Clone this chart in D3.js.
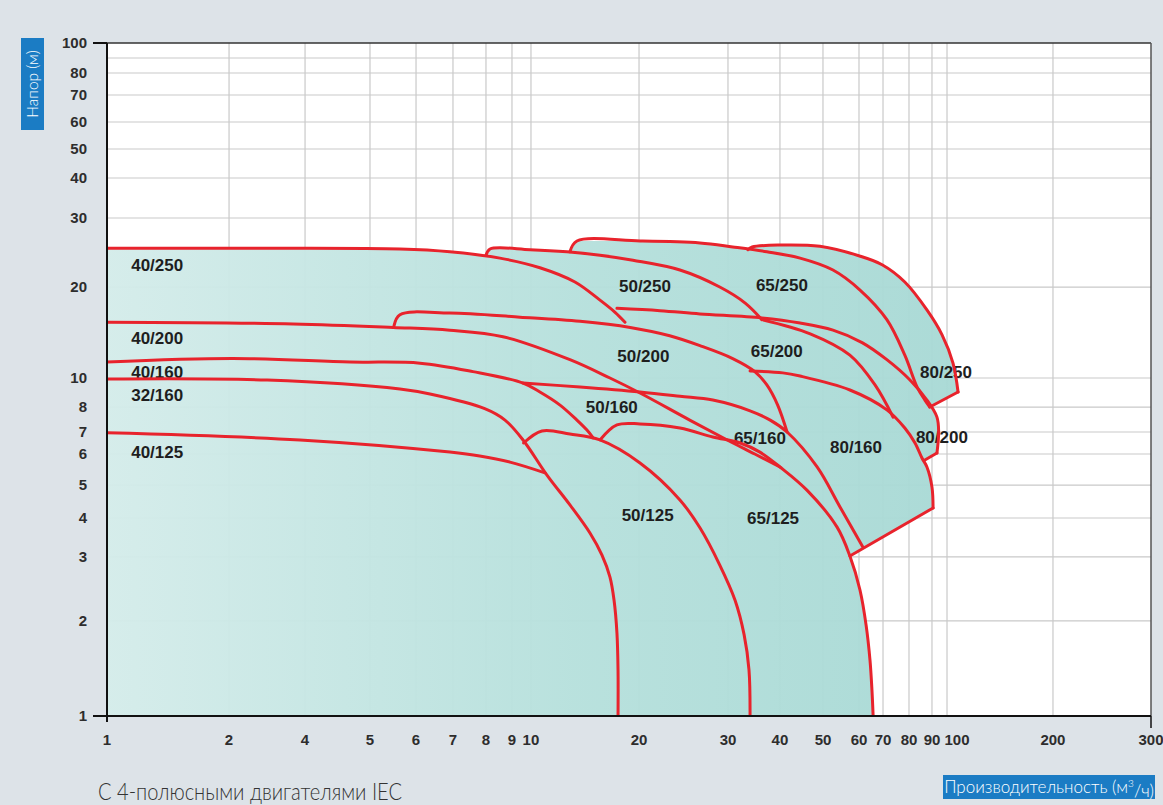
<!DOCTYPE html>
<html><head><meta charset="utf-8">
<script src="https://cdn.jsdelivr.net/npm/d3@7"></script>
<style>
body{margin:0;background:#dde3e8;}
svg{display:block}
</style>
</head><body>
<svg id="c" width="1163" height="805"></svg>
<script>
// ---------- tick labels ----------
const xTickValues = [1,2,4,5,6,7,8,9,10,20,30,40,50,60,70,80,90,100,200,300];
const yTickValues = [1,2,3,4,5,6,7,8,10,20,30,40,50,60,70,80,100];
const yGridValues = [2,3,4,5,6,7,8,10,20,30,40,50,60,70,80,90];
const xGridValues = [2,4,5,6,7,8,9,10,20,30,40,50,60,70,80,90,100,200];

// ---------- curves: [flow m3/h, head m] ----------
const c40_250 = [[1,25.1],[2.42,25.1],[5.63,25.0],[6.91,24.6],[8.52,23.7],[10.59,22.4],[13.26,20.6],[15.57,18.1],[17.15,16.5],[18.28,15.3]];
const c50_250 = [[8.0,24.1],[8.15,25.0],[9.95,24.9],[12.6,24.6],[15.57,24.1],[19.24,23.4],[24.1,22.1],[28.9,20],[33.0,17.7],[36.2,15.6]];
const c65_250 = [[12.84,24.6],[13.43,26.2],[20.09,26.2],[26.4,25.9],[30.8,25.3],[37.2,24.6],[44.4,23.7],[52.6,22.1],[60.4,19.55],[71.4,15.6],[78.3,11.9],[83.4,9.33],[86.8,8.44],[89.0,8.0]];
const c80_250 = [[33.5,24.9],[34.3,25.3],[40,25.6],[49.2,25.4],[60.2,24.0],[69.6,22.8],[78.3,20.6],[87.7,16.8],[96.6,13.9],[104,11.2],[107.5,8.98]];
const c40_200 = [[1,15.3],[3.59,15.1],[5.48,14.7],[6.91,14.4],[8.64,13.7],[12.84,11.5],[16.6,10],[20.09,8.91],[25.2,7.46],[29.9,6.62],[34.8,6.0],[40,5.56]];
const c50_200 = [[5.50,14.9],[5.63,16.2],[6.91,16.4],[9.41,15.9],[13.7,15.4],[18.9,14.7],[23.0,13.8],[26.4,12.8],[30.8,11.6],[34.8,10.5],[37.2,9.48],[39.5,8.12],[41.5,7.0]];
const c65_200 = [[17.36,17.0],[22.0,16.7],[26.4,16.3],[36.2,15.8],[44.4,15.2],[52.6,14.4],[61.2,13.1],[71.4,11.5],[80.4,9.85],[87.7,8.44],[93.2,7.58],[94.3,7.0],[93.2,6.04]];
const c65_200b = [[36.2,15.6],[46.8,14.0],[57.3,11.9],[66.5,9.48],[73.7,7.58]];
const c40_160 = [[1,11.3],[2.07,11.6],[4.67,11.3],[6.10,11.2],[7.59,10.5],[9.57,9.62],[10.59,8.98],[12.05,8.12],[13.43,7.46],[14.3,7.08],[14.9,6.72]];
const c32_160 = [[1,9.92],[2.83,9.84],[5.63,9.19],[6.36,8.84],[7.96,7.93],[8.72,7.46],[9.57,6.62],[11.08,5.30],[12.84,4.37],[14.6,3.58],[15.77,3.04],[16.6,2.64],[17.04,2.28],[17.36,1.83],[17.48,1.40],[17.48,1]];
const c50_160 = [[9.57,9.62],[13.7,9.33],[20.09,8.98],[24.1,8.69],[28.0,8.44],[33.9,7.84],[37.9,7.46],[41.5,7.0],[48.5,5.56],[54.5,4.31],[61.5,3.23]];
const c80_160 = [[33.9,10.55],[40.6,10.4],[44.4,10.15],[57.3,9.12],[71.4,7.88],[78.3,7.15],[82.5,6.48],[85.5,5.86],[87.7,5.56],[90,4.93],[90.7,4.28]];
const c40_125 = [[1,6.96],[3.82,6.62],[6.91,6.08],[7.80,5.93],[8.92,5.72],[10.94,5.37]];
const c50_125 = [[9.6,6.48],[10.73,7.04],[12.84,6.90],[15.57,6.62],[20.09,5.69],[24.1,4.52],[26.4,3.72],[28.9,2.85],[31.2,2.28],[32.8,1.81],[33.7,1.40],[33.9,1]];
const c65_125 = [[15.57,6.62],[17.36,7.27],[20.09,7.31],[24.1,7.15],[28.0,6.76],[32.1,6.48],[35.8,6.08],[40,5.56],[46.0,4.83],[53.7,3.74],[57.3,3.02],[60.4,2.43],[62.8,1.94],[64.4,1.50],[65.2,1.21],[65.7,1]];
// straight end lines
const edges = [
  [[107.5,8.98],[89.0,8.0]],
  [[93.2,6.04],[86.8,5.79]],
  [[90.7,4.28],[57.3,3.02]]
];
// outer envelope of the whole range
const envelope = [[1,1],[1,25.1],[2.42,25.1],[5.63,25.0],[6.91,24.6],[8.0,24.1],[8.15,25.0],[9.95,24.9],[12.6,24.6],[12.84,24.6],
  [13.43,26.2],[20.09,26.2],[26.4,25.9],[30.8,25.3],[33.5,24.9],[34.3,25.3],[40,25.6],[49.2,25.4],[60.2,24.0],[69.6,22.8],
  [78.3,20.6],[87.7,16.8],[96.6,13.9],[104,11.2],[107.5,8.98],[89.0,8.0],[93.2,7.58],[94.3,7.0],[93.2,6.04],[86.8,5.79],
  [87.7,5.56],[90,4.93],[90.7,4.28],[57.3,3.02],[60.4,2.43],[62.8,1.94],[64.4,1.50],[65.2,1.21],[65.7,1]];

const modelNames = ["40/250","40/200","40/160","32/160","40/125","50/250","50/200","50/160","50/125","65/250","65/200","65/160","65/125","80/250","80/200","80/160"];
const labelQ = [1.33,1.33,1.33,1.33,1.33,20.55,20.4,16.8,20.8,40.4,39.3,35.8,38.5,99.3,96.5,59.1];
const labelH = [22.8,13.6,10.5,8.78,6.08,20.1,11.8,8.0,4.08,20.2,12.3,6.72,4.0,10.5,6.76,6.3];

// ---------- layout ----------
const W = 1163, H = 805;
const plot = {left:107, right:1151, top:43, bottom:716};
const pw = plot.right - plot.left;
const ph = plot.bottom - plot.top;
// tick positions along the axes as fractions (the original scale is slightly irregular)
const xFrac = [0,0.1169,0.1897,0.2519,0.2960,0.3314,0.3630,0.3879,0.4061,0.5096,0.5948,0.6446,0.6858,0.7203,0.7433,0.7682,0.7902,0.8046,0.9061,1];
const yTickForScale = [1,2,3,4,5,6,7,8,10,20,30,40,50,60,70,80,90,100];
const yFrac = [0,0.1412,0.2363,0.2942,0.3432,0.3893,0.4220,0.4591,0.5022,0.6374,0.7400,0.7994,0.8425,0.8826,0.9227,0.9554,0.9777,1];

const x = d3.scaleLog().domain(xTickValues).range(xFrac.map(f => plot.left + f*pw));
const y = d3.scaleLog().domain(yTickForScale).range(yFrac.map(f => plot.bottom - f*ph));

const svg = d3.select("#c");
svg.append("rect").attr("width",W).attr("height",H).attr("fill","#dde3e8");

const defs = svg.append("defs");
const grad = defs.append("linearGradient").attr("id","fillg")
  .attr("gradientUnits","userSpaceOnUse").attr("x1",plot.left).attr("x2",960).attr("y1",0).attr("y2",0);
grad.append("stop").attr("offset","0").attr("stop-color","#d4ecea");
grad.append("stop").attr("offset","0.55").attr("stop-color","#b6e0dc");
grad.append("stop").attr("offset","1").attr("stop-color","#a8d9d5");
defs.append("clipPath").attr("id","clip").append("rect")
  .attr("x",plot.left).attr("y",plot.top).attr("width",pw).attr("height",ph);

// plot background
svg.append("rect").attr("x",plot.left).attr("y",plot.top).attr("width",pw).attr("height",ph).attr("fill","#ffffff");

// grid
const g = svg.append("g");
g.selectAll("line.vx").data(xGridValues).join("line")
  .attr("x1",d=>x(d)).attr("x2",d=>x(d)).attr("y1",plot.top).attr("y2",plot.bottom)
  .attr("stroke","#c9c9c9").attr("stroke-width",1.2);
g.selectAll("line.hy").data(yGridValues).join("line")
  .attr("y1",d=>y(d)).attr("y2",d=>y(d)).attr("x1",plot.left).attr("x2",plot.right)
  .attr("stroke","#c9c9c9").attr("stroke-width",1.2);

// envelope fill
const linLine = d3.line().x(d=>x(d[0])).y(d=>y(d[1]));
svg.append("path").attr("d", linLine(envelope)+"Z")
  .attr("fill","url(#fillg)").attr("fill-opacity",0.96).attr("clip-path","url(#clip)");

// model labels (under the red lines)
svg.append("g").selectAll("text").data(modelNames).join("text")
  .attr("x",(d,i)=>x(labelQ[i])).attr("y",(d,i)=>y(labelH[i])).attr("dy","0.36em")
  .attr("text-anchor","middle")
  .attr("font-family","'Liberation Sans', Arial, sans-serif").attr("font-weight","bold")
  .attr("font-size",17).attr("fill","#1e1e1e").text(d=>d);

// red curves
const curves = [c40_250,c50_250,c65_250,c80_250,c40_200,c50_200,c65_200,c65_200b,c40_160,c32_160,c50_160,c80_160,c40_125,c50_125,c65_125];
const curveLine = d3.line().x(d=>x(d[0])).y(d=>y(d[1])).curve(d3.curveCatmullRom.alpha(0.5));
const lg = svg.append("g").attr("clip-path","url(#clip)");
lg.selectAll("path.c").data(curves).join("path")
  .attr("d",d=>curveLine(d)).attr("fill","none").attr("stroke","#e8232c")
  .attr("stroke-width",3).attr("stroke-linejoin","round").attr("stroke-linecap","round");
lg.selectAll("path.e").data(edges).join("path")
  .attr("d",d=>linLine(d)).attr("fill","none").attr("stroke","#e8232c")
  .attr("stroke-width",3).attr("stroke-linecap","round");

// frame / axes
svg.append("line").attr("x1",plot.left).attr("x2",plot.right).attr("y1",plot.top).attr("y2",plot.top)
  .attr("stroke","#333").attr("stroke-width",1.5);
svg.append("line").attr("x1",plot.right).attr("x2",plot.right).attr("y1",plot.top).attr("y2",plot.bottom)
  .attr("stroke","#555").attr("stroke-width",1.5);
svg.append("line").attr("x1",plot.left).attr("x2",plot.left).attr("y1",plot.top).attr("y2",plot.bottom+6)
  .attr("stroke","#111").attr("stroke-width",2);
svg.append("line").attr("x1",plot.left-14).attr("x2",plot.right).attr("y1",plot.bottom).attr("y2",plot.bottom)
  .attr("stroke","#111").attr("stroke-width",2);
svg.append("line").attr("x1",plot.left-14).attr("x2",plot.left).attr("y1",plot.top).attr("y2",plot.top)
  .attr("stroke","#111").attr("stroke-width",2);
svg.append("line").attr("x1",plot.right).attr("x2",plot.right).attr("y1",plot.bottom).attr("y2",plot.bottom+12)
  .attr("stroke","#111").attr("stroke-width",1.5);

// tick labels
const tickFont = "'Liberation Sans', Arial, sans-serif";
svg.append("g").selectAll("text").data(xTickValues).join("text")
  .attr("x",d=>x(d) + (d===100 ? 10 : 0)).attr("y",740).attr("dy","0.36em")
  .attr("text-anchor","middle").attr("font-family",tickFont).attr("font-weight","bold")
  .attr("font-size",15).attr("fill","#2d2d2d").text(d=>d);
svg.append("g").selectAll("text").data(yTickValues).join("text")
  .attr("x",87).attr("y",d=>y(d)).attr("dy","0.36em")
  .attr("text-anchor","end").attr("font-family",tickFont).attr("font-weight","bold")
  .attr("font-size",15).attr("fill","#2d2d2d").text(d=>d);

// axis title boxes
svg.append("rect").attr("x",21).attr("y",38).attr("width",23).attr("height",92).attr("fill","#1b7cc4");
svg.append("text").attr("transform","translate(33,84) rotate(-90)").attr("dy","0.35em")
  .attr("text-anchor","middle").attr("font-family","Lato, 'Open Sans', sans-serif").attr("font-weight",300)
  .attr("font-size",15.5).attr("fill","#ffffff").text("Напор (м)");

svg.append("rect").attr("x",943).attr("y",775).attr("width",212).attr("height",24).attr("fill","#1b7cc4");
const xt = svg.append("text").attr("x",1049).attr("y",787).attr("dy","0.35em")
  .attr("text-anchor","middle").attr("font-family","Lato, 'Open Sans', sans-serif").attr("font-weight",300)
  .attr("font-size",17).attr("fill","#ffffff");
xt.append("tspan").text("Производительность (м");
xt.append("tspan").attr("font-size",10).attr("dy","-0.6em").text("3");
xt.append("tspan").attr("font-size",17).attr("dy","0.6em").text("/ч)");

svg.append("text").attr("x",98).attr("y",800).attr("font-family","Lato, 'Open Sans', sans-serif")
  .attr("font-weight",300).attr("font-size",24).attr("fill","#333")
  .attr("textLength",304).attr("lengthAdjust","spacingAndGlyphs")
  .text("С 4-полюсными двигателями IEC");
</script>
</body></html>
